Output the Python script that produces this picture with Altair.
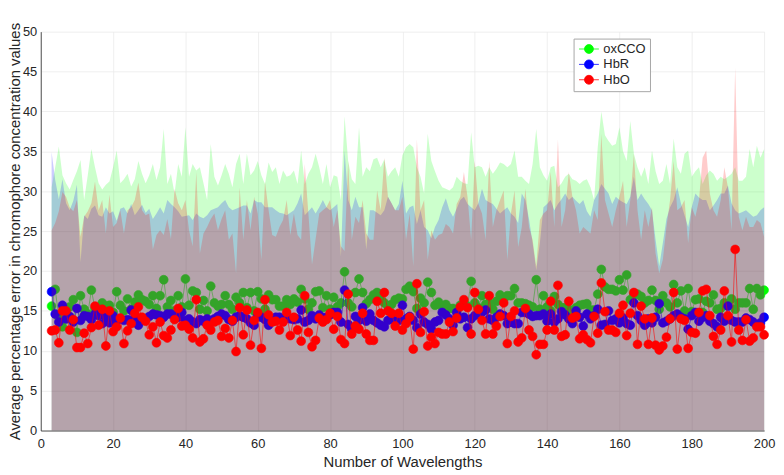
import altair as alt
import pandas as pd

X = list(range(3, 201))

GREEN_MEAN = [
    15.6, 17.7, 14.2, 13.0, 14.0, 15.5, 16.4, 12.3, 16.9, 15.2,
    14.6, 17.6, 15.3, 14.5, 16.0, 15.6, 15.7, 14.8, 17.4, 15.7,
    15.0, 16.5, 15.2, 16.1, 17.0, 16.4, 16.2, 15.8, 16.9, 15.3,
    16.9, 18.9, 15.5, 16.3, 15.0, 16.9, 15.5, 19.0, 15.7, 17.5,
    17.3, 15.2, 16.3, 15.0, 18.1, 16.0, 15.6, 15.8, 16.9, 15.8,
    15.2, 16.7, 16.0, 17.3, 15.4, 17.3, 15.0, 17.4, 16.5, 15.2,
    17.0, 16.4, 16.4, 15.6, 15.6, 16.4, 15.8, 16.5, 16.1, 17.7,
    16.5, 15.2, 16.0, 17.4, 17.5, 15.4, 16.9, 15.2, 16.7, 15.5,
    16.0, 19.9, 16.0, 15.5, 17.3, 19.0, 17.3, 15.9, 16.4, 17.0,
    17.3, 16.4, 16.0, 15.6, 15.8, 16.4, 16.6, 16.5, 17.7, 18.1,
    17.4, 15.3, 16.6, 16.0, 18.6, 17.3, 15.7, 16.1, 15.5, 15.8,
    15.3, 15.3, 15.0, 15.7, 16.0, 15.6, 18.7, 16.0, 15.4, 16.9,
    15.8, 16.0, 15.2, 16.2, 17.0, 16.5, 16.9, 16.9, 17.8, 16.0,
    16.0, 15.9, 15.7, 15.5, 18.9, 15.2, 16.9, 15.5, 15.0, 16.8,
    15.8, 15.4, 15.4, 15.2, 14.9, 15.4, 15.7, 15.8, 15.9, 15.1,
    15.1, 17.1, 20.2, 18.0, 17.7, 17.7, 17.5, 18.9, 17.6, 19.5,
    16.4, 17.0, 17.1, 16.8, 16.0, 16.3, 17.6, 16.3, 15.2, 16.9,
    16.0, 15.5, 18.3, 16.0, 17.5, 15.0, 17.8, 14.9, 16.4, 16.5,
    14.8, 16.2, 16.0, 17.0, 15.2, 15.3, 16.0, 15.9, 16.5, 15.2,
    16.0, 16.0, 16.0, 17.8, 15.2, 17.8, 17.0, 17.6,
]

BLUE_MEAN = [
    17.4, 14.6, 13.6, 15.7, 14.0, 14.3, 13.6, 15.3, 13.8, 14.4,
    14.3, 13.9, 14.6, 14.4, 13.4, 14.2, 13.5, 14.4, 13.8, 14.0,
    13.8, 13.9, 15.1, 14.2, 13.2, 13.8, 14.0, 14.3, 14.6, 14.5,
    14.4, 14.2, 14.6, 14.6, 14.4, 14.2, 14.8, 13.8, 14.0, 13.6,
    13.4, 13.9, 13.7, 14.0, 13.8, 14.0, 14.3, 14.6, 14.4, 13.9,
    13.7, 14.2, 14.4, 14.2, 14.0, 13.5, 13.2, 14.4, 14.2, 13.9,
    13.2, 13.8, 14.2, 14.2, 14.0, 14.1, 14.0, 13.9, 14.0, 15.1,
    13.6, 13.8, 14.4, 14.0, 14.5, 14.1, 14.2, 14.5, 14.8, 14.8,
    13.6, 17.6, 13.3, 12.7, 14.3, 13.8, 15.4, 13.7, 14.6, 13.8,
    13.5, 13.2, 13.0, 13.8, 14.0, 13.7, 13.8, 15.7, 14.0, 14.3,
    13.8, 12.9, 14.6, 13.6, 13.3, 12.7, 13.6, 13.8, 14.8, 14.5,
    14.0, 13.2, 14.8, 14.0, 14.2, 12.9, 14.0, 14.4, 14.6, 14.8,
    15.1, 14.0, 13.8, 14.2, 14.6, 14.4, 13.4, 13.6, 13.4, 13.4,
    14.8, 14.8, 14.6, 14.3, 14.4, 14.4, 14.6, 13.7, 14.6, 13.6,
    14.0, 14.9, 14.5, 14.0, 13.4, 15.0, 14.2, 13.1, 14.6, 14.0,
    14.4, 15.2, 13.2, 13.3, 15.0, 13.8, 14.0, 13.5, 14.1, 13.4,
    13.2, 16.0, 14.4, 13.8, 13.2, 14.0, 13.5, 14.2, 15.9, 13.5,
    13.7, 14.0, 14.4, 14.6, 14.2, 14.0, 12.7, 14.4, 14.8, 13.7,
    14.2, 14.4, 13.7, 13.4, 13.0, 14.2, 13.7, 15.6, 13.8, 13.6,
    13.6, 13.6, 14.1, 13.9, 13.6, 13.2, 13.5, 14.2,
]

RED_MEAN = [
    12.5, 12.6, 11.0, 15.0, 15.0, 12.6, 13.9, 10.4, 10.4, 12.2,
    10.9, 12.9, 15.6, 13.2, 15.2, 10.6, 15.0, 12.4, 13.0, 14.1,
    10.9, 12.5, 13.4, 14.7, 15.5, 14.2, 13.7, 12.0, 13.0, 11.0,
    13.6, 11.9, 11.6, 12.6, 13.9, 15.3, 13.1, 13.2, 12.7, 11.6,
    16.4, 11.1, 11.5, 13.2, 12.6, 13.6, 13.8, 11.8, 12.8, 11.6,
    13.8, 9.9, 15.4, 12.0, 15.1, 10.7, 13.8, 14.8, 10.3, 16.4,
    14.5, 13.6, 13.7, 12.6, 13.6, 14.8, 11.9, 14.2, 12.6, 11.2,
    16.9, 12.3, 10.5, 11.3, 14.1, 13.6, 13.9, 14.7, 12.7, 14.3,
    11.4, 10.9, 17.1, 12.1, 13.1, 12.7, 14.7, 12.1, 11.3, 11.3,
    16.2, 14.7, 17.3, 15.0, 14.7, 13.1, 14.7, 12.6, 13.4, 14.2,
    10.2, 18.4, 12.3, 14.9, 10.6, 11.7, 10.9, 12.3, 12.1, 12.1,
    13.6, 12.4, 14.1, 15.5, 16.4, 15.4, 12.1, 17.3, 15.2, 13.8,
    12.1, 16.9, 12.1, 13.1, 14.3, 16.0, 10.9, 14.3, 15.0, 11.1,
    11.6, 15.3, 12.6, 11.8, 9.5, 10.8, 10.8, 12.6, 16.2, 12.6,
    18.2, 11.8, 12.0, 16.2, 14.1, 14.3, 11.5, 12.0, 11.4, 11.0,
    14.3, 12.2, 18.5, 14.9, 12.6, 12.6, 12.3, 14.7, 15.7, 11.9,
    14.7, 17.3, 10.8, 15.6, 14.0, 10.8, 14.1, 10.7, 10.1, 10.6,
    11.7, 14.0, 17.3, 10.2, 14.0, 13.8, 10.3, 12.3, 12.2, 14.8,
    17.5, 17.7, 14.4, 11.8, 10.8, 12.6, 17.5, 14.4, 11.1, 22.7,
    12.6, 11.3, 13.9, 11.2, 11.6, 13.0, 13.0, 12.0,
]

GREEN_UP = [
    30.5, 33.0, 35.6, 32.0, 31.0, 30.2, 31.4, 32.5, 33.9, 28.9,
    32.0, 35.3, 33.0, 31.0, 30.2, 30.8, 31.2, 33.0, 35.1, 31.0,
    31.5, 32.2, 30.6, 31.5, 33.8, 32.2, 31.0, 32.0, 33.4, 31.4,
    33.0, 37.8, 30.9, 32.2, 29.7, 33.4, 31.8, 38.0, 31.8, 33.4,
    32.6, 33.0, 31.0, 28.9, 35.9, 31.8, 30.7, 32.0, 33.4, 32.2,
    30.5, 33.4, 34.7, 30.9, 34.7, 32.0, 32.6, 33.8, 32.0, 30.9,
    33.6, 32.4, 33.0, 30.9, 32.6, 31.8, 32.0, 32.6, 30.9, 35.1,
    30.9, 32.2, 33.0, 34.7, 33.0, 30.9, 33.4, 30.5, 32.0, 31.8,
    28.9, 39.4, 33.8, 31.5, 30.9, 38.0, 31.8, 33.0, 32.5, 34.0,
    34.2, 33.0, 34.0, 31.8, 32.5, 33.0, 31.8, 34.5, 35.5, 35.9,
    35.5, 33.0, 31.8, 29.7, 37.2, 33.8, 32.5, 31.3, 30.5, 30.3,
    30.1, 30.5, 31.8, 31.3, 31.0, 30.9, 37.4, 33.0, 33.2, 33.0,
    31.8, 33.0, 32.2, 32.8, 33.6, 33.4, 33.0, 33.4, 35.1, 31.8,
    31.8, 31.3, 30.9, 33.4, 37.8, 33.0, 32.0, 31.3, 33.0, 33.2,
    30.5, 31.0, 31.8, 32.2, 31.5, 31.3, 30.9, 31.3, 31.5, 30.5,
    28.9, 35.5, 40.0, 37.0, 36.3, 35.7, 35.9, 38.0, 35.0, 33.8,
    38.8, 34.7, 33.0, 31.8, 33.0, 30.9, 35.1, 32.5, 30.9, 31.3,
    33.4, 30.9, 36.6, 33.0, 32.2, 34.7, 35.1, 31.8, 32.5, 33.0,
    30.9, 32.0, 32.6, 32.2, 31.3, 31.8, 31.5, 31.8, 32.2, 33.0,
    31.3, 31.3, 31.8, 35.3, 33.0, 35.7, 34.2, 35.3,
]

BLUE_UP = [
    34.9, 31.4, 29.0, 31.5, 28.5, 27.6, 28.8, 30.8, 21.1, 27.0,
    26.5, 27.8, 28.2, 27.0, 26.8, 28.0, 27.2, 27.5, 26.3, 27.8,
    28.0, 27.2, 28.4, 27.0, 27.6, 28.3, 27.3, 27.8, 26.5, 27.2,
    28.0, 27.2, 28.9, 28.4, 28.0, 27.5, 26.8, 26.9, 27.0, 26.4,
    27.2, 26.8, 26.6, 27.0, 27.6, 27.8, 28.0, 28.5, 28.9, 28.0,
    27.6, 27.8, 28.0, 28.2, 28.2, 27.2, 28.9, 28.6, 28.6, 28.0,
    28.0, 28.0, 27.6, 27.3, 27.2, 27.0, 27.3, 27.6, 28.5, 29.7,
    27.0, 27.5, 28.0, 27.2, 28.0, 28.9, 28.0, 27.6, 28.0, 28.4,
    21.8, 35.1, 28.9, 27.6, 29.3, 28.0, 28.0, 22.7, 27.6, 27.6,
    27.3, 27.0, 27.6, 29.3, 28.5, 27.6, 28.4, 31.3, 27.2, 28.0,
    28.2, 25.9, 27.6, 25.5, 25.1, 24.1, 25.5, 26.4, 28.0, 29.1,
    27.6, 26.8, 27.8, 28.9, 29.3, 28.4, 28.0, 27.6, 28.5, 30.3,
    28.9, 28.6, 28.4, 27.8, 27.2, 27.6, 28.0, 27.2, 26.8, 26.0,
    29.7, 28.9, 26.5, 23.5, 20.1, 23.5, 28.0, 28.4, 28.9, 27.6,
    28.4, 29.0, 29.7, 28.9, 29.3, 28.8, 28.4, 28.9, 27.5, 26.8,
    28.9, 29.7, 30.9, 30.3, 29.7, 28.4, 29.3, 28.9, 28.6, 28.4,
    29.3, 31.8, 28.9, 29.7, 29.0, 28.4, 27.6, 23.9, 20.6, 23.5,
    26.5, 28.0, 28.9, 30.5, 28.5, 27.0, 25.5, 28.0, 29.7, 29.2,
    28.9, 28.9, 27.6, 28.2, 28.9, 29.7, 29.7, 30.7, 28.5, 27.6,
    27.2, 27.4, 27.6, 27.2, 26.8, 27.0, 27.6, 28.0,
]

RED_UP = [
    25.1, 26.0, 27.5, 29.9, 29.3, 28.0, 27.5, 28.9, 24.3, 26.8,
    27.5, 28.5, 31.2, 27.6, 28.9, 24.7, 29.6, 25.5, 26.0, 27.6,
    24.7, 27.6, 28.0, 28.9, 31.1, 27.6, 27.0, 27.2, 22.7, 24.5,
    25.1, 24.5, 26.5, 24.0, 30.3, 28.5, 27.6, 28.9, 25.1, 23.1,
    32.4, 22.2, 24.7, 25.5, 26.5, 27.2, 25.1, 26.5, 27.6, 23.9,
    24.7, 19.7, 30.5, 23.9, 28.9, 25.1, 29.3, 27.2, 21.4, 31.2,
    27.6, 24.5, 24.3, 25.5, 26.4, 28.9, 24.5, 27.2, 24.5, 23.9,
    33.4, 27.2, 20.8, 24.0, 27.2, 27.6, 28.0, 28.9, 25.5, 27.6,
    23.1, 22.5, 33.8, 23.9, 26.8, 26.0, 28.9, 24.7, 23.9, 23.9,
    30.1, 27.6, 34.2, 29.3, 28.5, 27.6, 27.6, 29.3, 23.9, 27.2,
    20.6, 36.5, 27.6, 28.9, 21.4, 25.1, 23.9, 24.5, 24.7, 25.9,
    25.5, 24.7, 28.4, 29.3, 32.4, 29.3, 23.9, 33.8, 28.4, 27.2,
    23.9, 33.8, 25.5, 27.6, 28.9, 30.1, 21.4, 27.2, 30.1, 23.0,
    25.5, 30.3, 25.5, 23.9, 20.6, 26.4, 27.2, 27.6, 32.4, 25.5,
    36.5, 25.5, 27.6, 32.4, 29.3, 27.6, 24.7, 25.5, 25.1, 24.7,
    27.6, 26.4, 37.2, 28.9, 27.2, 25.5, 27.6, 29.3, 31.3, 25.5,
    28.9, 34.7, 27.6, 23.9, 27.6, 25.5, 28.0, 22.2, 19.7, 21.4,
    25.5, 28.9, 33.8, 27.6, 28.0, 28.9, 23.5, 28.0, 26.8, 28.9,
    34.2, 35.1, 29.7, 27.6, 26.8, 28.9, 33.0, 30.5, 25.1, 45.5,
    26.8, 25.1, 26.8, 25.5, 25.5, 26.4, 26.0, 24.3,
]

SERIES = ["oxCCO", "HbR", "HbO"]
COLORS = ["#00ff00", "#0000ff", "#ff0000"]
X_TICKS = list(range(0, 201, 20))
Y_TICKS = list(range(0, 51, 5))

FONT = "Liberation Sans"
PLOT_W = 729
PLOT_H = 402

x_enc = alt.X(
    "x:Q",
    scale=alt.Scale(domain=[0, 200], nice=False, zero=False),
    axis=alt.Axis(values=X_TICKS, title="Number of Wavelengths", grid=True,
                  labelFlush=False),
)
y_scale = alt.Scale(domain=[0, 50], nice=False)
y_axis = alt.Axis(values=Y_TICKS,
                  title="Average percentage error in chromophore concentration values",
                  grid=True, labelFlush=False,
                  titleX=-18, titleY=PLOT_H / 2, titleAngle=270,
                  titleAlign="center", titleBaseline="bottom")

color_scale = alt.Scale(domain=SERIES, range=COLORS)

layers = []
for name, col, mean, up in [
    ("oxCCO", COLORS[0], GREEN_MEAN, GREEN_UP),
    ("HbR", COLORS[1], BLUE_MEAN, BLUE_UP),
    ("HbO", COLORS[2], RED_MEAN, RED_UP),
]:
    df = pd.DataFrame({"x": X, "mean": mean, "up": up, "series": name})
    base = alt.Chart(df)
    area = base.mark_area(color=col, opacity=0.2, interpolate="linear").encode(
        x=x_enc,
        y=alt.Y("up:Q", scale=y_scale, axis=y_axis),
    )
    line = base.mark_line(color=col, strokeWidth=0.7, opacity=0.8).encode(
        x=x_enc, y=alt.Y("mean:Q", scale=y_scale, axis=y_axis)
    )
    pts = base.mark_point(filled=True, size=80, opacity=1, shape="circle", strokeWidth=0.6).encode(
        x=x_enc,
        y=alt.Y("mean:Q", scale=y_scale, axis=y_axis),
        fill=alt.Fill("series:N", scale=color_scale, title=None,
                      legend=alt.Legend(title=None)),
        stroke=alt.Stroke("series:N", scale=color_scale, title=None,
                          legend=alt.Legend(title=None)),
    )
    layers += [area, line, pts]

# circle with a line through it, shifted right so that the line fits inside the box
legend_symbol = ("M0.1,0 A0.9,0.9 0 1,1 1.9,0 A0.9,0.9 0 1,1 0.1,0 Z "
                 "M-1.0,0 L3.0,0")

chart = alt.layer(*layers).properties(
    width=PLOT_W,
    height=PLOT_H,
    autosize=alt.AutoSizeParams(type="none"),
    padding={"left": 33, "top": 22, "right": 12, "bottom": 43},
).configure_view(
    stroke=None
).configure_axis(
    labelFont=FONT,
    titleFont=FONT,
    labelFontSize=13,
    titleFontSize=15,
    titleFontWeight="normal",
    labelColor="#262626",
    titleColor="#262626",
    domainColor="#262626",
    domainWidth=0.8,
    gridColor="#ebebeb",
    gridWidth=0.8,
    ticks=False,
).configure_axisX(
    labelPadding=7,
    titlePadding=4,
).configure_axisY(
    labelPadding=4,
).configure_legend(
    orient="none",
    legendX=537,
    legendY=7,
    fillColor="white",
    strokeColor="#a6a6a6",
    padding=4,
    symbolType=legend_symbol,
    symbolSize=100,
    symbolStrokeWidth=0.8,
    labelFont=FONT,
    labelFontSize=13,
    labelColor="#262626",
    labelOffset=13,
    rowPadding=1.5,
)

chart.save("out.html", embed_options={"renderer": "svg", "actions": False})
